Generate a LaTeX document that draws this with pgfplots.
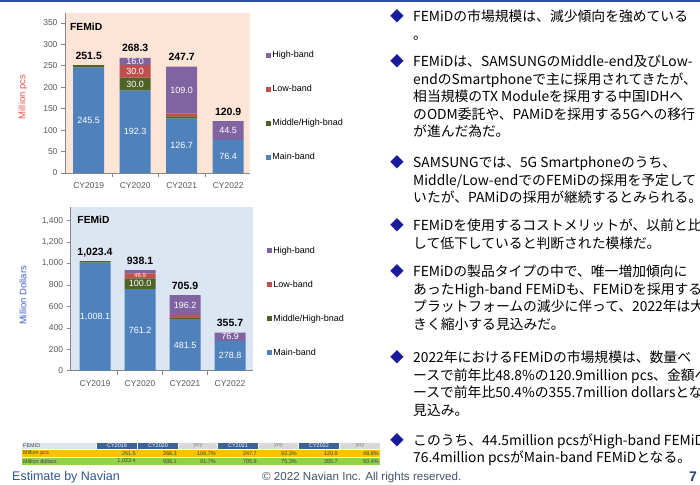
\documentclass[border=0pt]{standalone}
\usepackage{fontspec}
\setmainfont{Liberation Sans}
\newfontfamily\jp{Noto Sans CJK JP}
\usepackage{pgfplots}
\pgfplotsset{compat=1.18}
\definecolor{mainb}{HTML}{4F81BD}
\definecolor{midb}{HTML}{4F6228}
\definecolor{lowb}{HTML}{C0504D}
\definecolor{highb}{HTML}{8064A2}
\definecolor{pinkbg}{HTML}{FCE4D6}
\definecolor{bluebg}{HTML}{DCE6F2}
\definecolor{axgray}{HTML}{868686}
\definecolor{tickgray}{HTML}{595959}
\definecolor{bulletblue}{HTML}{1A1A9C}
\definecolor{hdrblue}{HTML}{3D6298}
\definecolor{hdrlight}{HTML}{DCE6F1}
\definecolor{hdrgray}{HTML}{D9D9D9}
\definecolor{rowor}{HTML}{FFC000}
\definecolor{rowgr}{HTML}{92D050}
\definecolor{navyfoot}{HTML}{2F5597}
\definecolor{copyc}{HTML}{44546A}
\definecolor{topline}{HTML}{2B4BA6}
\definecolor{pcsred}{HTML}{E8534F}
\definecolor{dolblue}{HTML}{4060D0}
\newcommand\tabfont{\fontsize{5.5}{6}\selectfont}
\newcommand\jpf{\jp\fontsize{13.8}{17}\selectfont}
\pgfplotsset{
  femidbase/.style={
    scale only axis, ybar stacked, bar width=31pt,
    anchor=south west,
    axis x line*=bottom, axis y line*=left,
    axis line style={axgray, line width=0.6pt},
    tick align=outside, major tick length=4pt,
    tick style={axgray, line width=0.6pt},
    xtick={0.5,1.5,2.5}, xticklabels={,,},
    extra x ticks={0,1,2,3},
    extra x tick labels={CY2019,CY2020,CY2021,CY2022},
    extra x tick style={major tick length=0pt},
    x tick label style={font=\fontsize{8.5}{10}\selectfont, text=tickgray, yshift=-6pt},
    y tick label style={font=\fontsize{8.5}{10}\selectfont, text=tickgray},
    /pgf/number format/assume math mode=true,
    /pgf/number format/1000 sep={,},
    legend cell align=left,
    reverse legend,
    legend image code/.code={\fill[##1] (0pt,-2.6pt) rectangle (5.2pt,2.6pt);},
    legend entries={Main-band,Middle/High-bnad,Low-band,High-band},
  },
  lblbase/.style={
    scale only axis, anchor=south west, hide axis, clip=false,
  },
  inlbl/.style={draw=none, mark=none, nodes near coords, point meta=explicit symbolic,
    every node near coord/.append style={anchor=center, text=white, inner sep=0pt, font=\fontsize{9}{10}\selectfont}},
  totlbl/.style={draw=none, mark=none, nodes near coords, point meta=explicit symbolic,
    every node near coord/.append style={anchor=base, yshift=6pt, text=black, inner sep=0pt, font=\bfseries\fontsize{10.5}{12}\selectfont}},
}
\begin{document}
\begin{tikzpicture}[x=1pt,y=1pt]
\useasboundingbox (0,0) rectangle (700,484);
\clip (0,0) rectangle (700,484);
\fill[white] (0,0) rectangle (700,484);
\fill[topline] (0,482.3) rectangle (700,484);

% ---------- top chart (Million pcs)
\begin{axis}[femidbase, at={(65pt,311pt)}, width=185pt, height=160pt,
  xmin=-0.51, xmax=3.47, ymin=0, ymax=373, ytick={0,50,...,350},
  axis background/.style={fill=pinkbg},
  ylabel={Million pcs},
  every axis y label/.style={at={(axis description cs:-0.227,0.475)}, rotate=90, anchor=center, font=\fontsize{9.5}{11}\selectfont, text=pcsred},
  legend style={draw=none, fill=none, at={(1.086,0.772)}, anchor=north west, inner sep=0pt, row sep=23pt,
    font=\fontsize{9}{10}\selectfont, nodes={inner sep=1pt, text height=7pt, text depth=2pt}},
]
\addplot[fill=mainb, draw=none] coordinates {(0,245.5) (1,192.3) (2,126.7) (3,76.4)};
\addplot[fill=midb, draw=none] coordinates {(0,6.0) (1,30.0) (2,5.0) (3,0)};
\addplot[fill=lowb, draw=none] coordinates {(0,0) (1,30.0) (2,7.0) (3,0)};
\addplot[fill=highb, draw=none] coordinates {(0,0) (1,16.0) (2,109.0) (3,44.5)};
\node[anchor=west, inner sep=0pt, font=\bfseries\fontsize{10.3}{12}\selectfont] at (axis description cs:0.027,0.9125) {FEMiD};
\end{axis}
\begin{axis}[lblbase, at={(65pt,311pt)}, width=185pt, height=160pt,
  xmin=-0.51, xmax=3.47, ymin=0, ymax=373]
\addplot[inlbl] coordinates {(0,122.75) [245.5] (1,96.15) [192.3] (1,207.3) [30.0] (1,237.3) [30.0] (1,260.3) [16.0]
  (2,63.35) [126.7] (2,193.2) [109.0] (3,38.2) [76.4] (3,98.65) [44.5]};
\addplot[totlbl] coordinates {(0,251.5) [251.5] (1,268.3) [268.3] (2,247.7) [247.7] (3,120.9) [120.9]};
\end{axis}

% ---------- bottom chart (Million Dollars)
\begin{axis}[femidbase, at={(70.7pt,113.3pt)}, width=182.3pt, height=163.7pt,
  xmin=-0.54, xmax=3.51, ymin=0, ymax=1528, ytick={0,200,...,1400},
  axis background/.style={fill=bluebg},
  ylabel={Million Dollars},
  every axis y label/.style={at={(axis description cs:-0.262,0.46)}, rotate=90, anchor=center, font=\fontsize{9.5}{11}\selectfont, text=dolblue},
  legend style={draw=none, fill=none, at={(1.077,0.768)}, anchor=north west, inner sep=0pt, row sep=23pt,
    font=\fontsize{9}{10}\selectfont, nodes={inner sep=1pt, text height=7pt, text depth=2pt}},
]
\addplot[fill=mainb, draw=none] coordinates {(0,1008.1) (1,761.2) (2,481.5) (3,278.8)};
\addplot[fill=midb, draw=none] coordinates {(0,15.3) (1,100.0) (2,16.2) (3,0)};
\addplot[fill=lowb, draw=none] coordinates {(0,0) (1,46.9) (2,12.0) (3,0)};
\addplot[fill=highb, draw=none] coordinates {(0,0) (1,30.0) (2,196.2) (3,76.9)};
\node[anchor=west, inner sep=0pt, font=\bfseries\fontsize{10.3}{12}\selectfont] at (axis description cs:0.036,0.92) {FEMiD};
\end{axis}
\begin{axis}[lblbase, at={(70.7pt,113.3pt)}, width=182.3pt, height=163.7pt,
  xmin=-0.54, xmax=3.51, ymin=0, ymax=1528]
\addplot[inlbl] coordinates {(0,504.05) [{1,008.1}] (1,380.6) [761.2] (1,811.2) [100.0]
  (2,240.75) [481.5] (2,607.8) [196.2] (3,139.4) [278.8] (3,317.25) [76.9]};
\addplot[inlbl, every node near coord/.append style={font=\fontsize{6}{7}\selectfont}] coordinates {(1,884.65) [46.9]};
\addplot[totlbl] coordinates {(0,1023.4) [{1,023.4}] (1,938.1) [938.1] (2,705.9) [705.9] (3,355.7) [355.7]};
\end{axis}

% ---------- table
\fill[hdrlight] (22,35) rectangle (96,41.5);
\node[anchor=west, inner sep=0pt, font=\tabfont, text=black!70] at (23,38.25) {FEMID};
\foreach \a/\b/\lab in {97/137/CY2019, 138/178/CY2020, 218/258/CY2021, 299/339/CY2022}
  {\fill[hdrblue] (\a,35) rectangle (\b,41.5);
   \node[inner sep=0pt, font=\tabfont, text=white] at ({(\a+\b)/2},38.25) {\lab};}
\foreach \a/\b in {179/217, 259/298, 340/380}
  {\fill[hdrgray] (\a,35) rectangle (\b,41.5);
   \node[inner sep=0pt, font=\tabfont, text=black!50] at ({(\a+\b)/2},38.25) {yoy};}
\fill[rowor] (22,27) rectangle (380,34.5);
\fill[rowgr] (22,19) rectangle (380,26.5);
\node[anchor=west, inner sep=0pt, font=\tabfont, text=black!75] at (23,30.75) {Million pcs};
\node[anchor=west, inner sep=0pt, font=\tabfont, text=black!75] at (23,22.75) {Million dollars};
\foreach \x/\v in {136/251.5, 177/268.3, 216/106.7\%, 257/247.7, 297/92.3\%, 338/120.9, 379/48.8\%}
  {\node[anchor=east, inner sep=0pt, font=\tabfont, text=black!75] at (\x,30.75) {\v};}
\foreach \x/\v in {136/{1,023.4}, 177/938.1, 216/91.7\%, 257/705.9, 297/75.3\%, 338/355.7, 379/50.4\%}
  {\node[anchor=east, inner sep=0pt, font=\tabfont, text=black!75] at (\x,22.75) {\v};}

% ---------- footer
\node[anchor=base west, inner sep=0pt, font=\fontsize{12.5}{14}\selectfont, text=navyfoot] at (12,3.2) {Estimate by Navian};
\node[anchor=base west, inner sep=0pt, font=\fontsize{11.6}{14}\selectfont, text=copyc] at (262,3.2) {© 2022 Navian Inc. All rights reserved.};
\node[anchor=base east, inner sep=0pt, font=\bfseries\fontsize{14}{16}\selectfont, text=navyfoot!80!black] at (697,3) {7};

% ---------- right text
\foreach \y in {462,417,316,253,207,121,39}
  {\node[anchor=base, inner sep=0pt, font=\jpf, text=bulletblue] at (397,\y) {◆};}
\begin{scope}[every node/.style={anchor=base west, inner sep=0pt, font=\jpf}]
\node at (413,462) {FEMiDの市場規模は、減少傾向を強めている};
\node at (413,444.5) {。};
\node at (413,417) {FEMiDは、SAMSUNGのMiddle-end及びLow-};
\node at (413,399.5) {endのSmartphoneで主に採用されてきたが、};
\node at (413,382) {相当規模のTX Moduleを採用する中国IDHへ};
\node at (413,364.5) {のODM委託や、PAMiDを採用する5Gへの移行};
\node at (413,347) {が進んだ為だ。};
\node at (413,316) {SAMSUNGでは、5G Smartphoneのうち、};
\node at (413,298.5) {Middle/Low-endでのFEMiDの採用を予定して};
\node at (413,281) {いたが、PAMiDの採用が継続するとみられる。};
\node at (413,253) {FEMiDを使用するコストメリットが、以前と比較};
\node at (413,235.5) {して低下していると判断された模様だ。};
\node at (413,207) {FEMiDの製品タイプの中で、唯一増加傾向に};
\node at (413,189.5) {あったHigh-band FEMiDも、FEMiDを採用する};
\node at (413,172) {プラットフォームの減少に伴って、2022年は大};
\node at (413,154.5) {きく縮小する見込みだ。};
\node at (413,121) {2022年におけるFEMiDの市場規模は、数量ベ};
\node at (413,103.5) {ースで前年比48.8\%の120.9million pcs、金額ベ};
\node at (413,86) {ースで前年比50.4\%の355.7million dollarsとなる};
\node at (413,68.5) {見込み。};
\node at (413,39) {このうち、44.5million pcsがHigh-band FEMiD、};
\node at (413,21.5) {76.4million pcsがMain-band FEMiDとなる。};
\end{scope}
\end{tikzpicture}
\end{document}
